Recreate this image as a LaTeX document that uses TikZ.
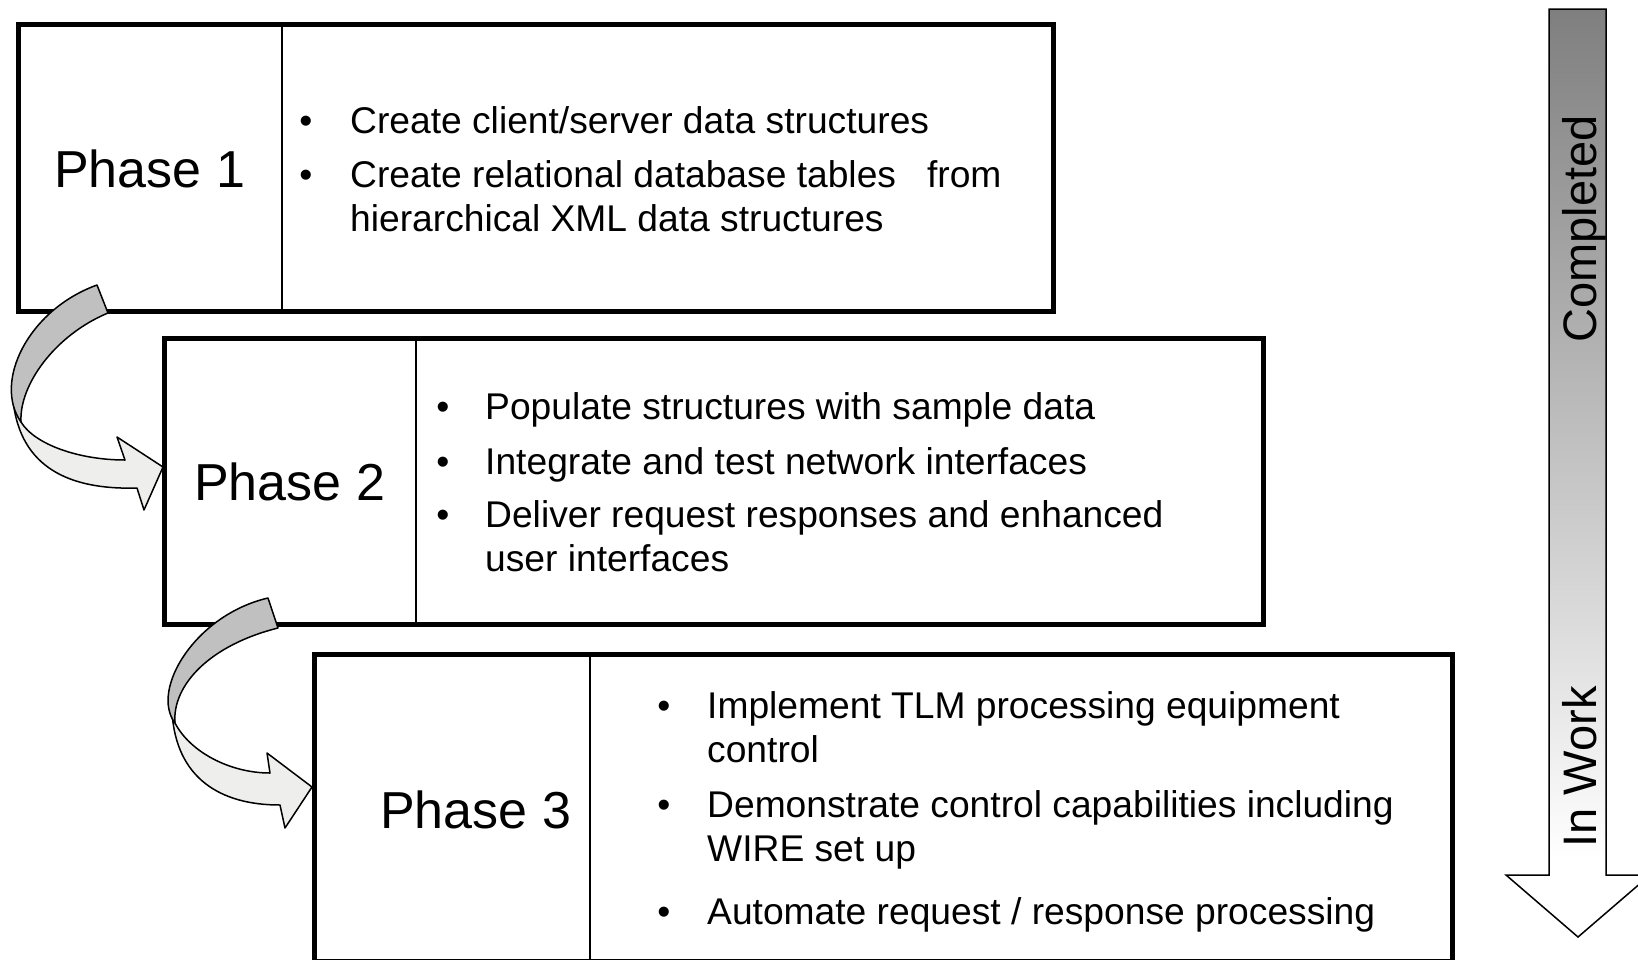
\documentclass[tikz,border=0pt]{standalone}
\usepackage{fontspec}
\setmainfont{Liberation Sans}
\definecolor{bandgray}{HTML}{C0C0C0}
\definecolor{bandlight}{HTML}{EEEEEC}
\definecolor{shafttop}{HTML}{7F7F7F}
\begin{document}
\begin{tikzpicture}[x=1pt,y=-1pt,
  box/.style={draw=black, line width=5pt, line join=miter},
  divider/.style={draw=black, line width=2pt},
  phase/.style={anchor=base west, inner sep=0pt, font=\fontsize{52}{62}\selectfont},
  item/.style={anchor=base west, inner sep=0pt, font=\fontsize{37.2}{44}\selectfont},
  dot/.style={anchor=base, inner sep=0pt, font=\fontsize{37.2}{44}\selectfont},
  band/.style={draw=black, line width=1.5pt, line join=round},
  side/.style={rotate=90, anchor=base, inner sep=0pt, font=\fontsize{47}{56}\selectfont}]
\useasboundingbox (0,0) rectangle (1638,959);

% ---- boxes ----
\draw[box] (18,24.5) rectangle (1053,311);
\draw[divider] (282,24.5) -- (282,311);
\draw[box] (164.5,338) rectangle (1263,624.5);
\draw[divider] (416,338) -- (416,624.5);
\draw[box] (314.5,654.5) rectangle (1452.5,961);
\draw[divider] (590,654.5) -- (590,961);

% ---- phase labels ----
\node[phase] (p1) at (54,187) {Phase 1};
\node[phase] (p2) at (194,500) {Phase 2};
\node[phase] (p3) at (380,828) {Phase 3};

% ---- box 1 items ----
\node[dot] (d11) at (306,133) {•};
\node[item] (t11) at (350,133) {Create client/server data structures};
\node[dot] (d12) at (306,187) {•};
\node[item] (t12) at (350,187) {Create relational database tables\ \ \ from};
\node[item] (t12b) at (350,231) {hierarchical XML data structures};

% ---- box 2 items ----
\node[dot] (d21) at (443,419) {•};
\node[item] (t21) at (485,419) {Populate structures with sample data};
\node[dot] (d22) at (443,474) {•};
\node[item] (t22) at (485,474) {Integrate and test network interfaces};
\node[dot] (d23) at (443,527) {•};
\node[item] (t23) at (485,527) {Deliver request responses and enhanced};
\node[item] (t23b) at (485,571) {user interfaces};

% ---- box 3 items ----
\node[dot] (d31) at (664,718) {•};
\node[item] (t31) at (707,718) {Implement TLM processing equipment};
\node[item] (t31b) at (707,762) {control};
\node[dot] (d32) at (664,817) {•};
\node[item] (t32) at (707,817) {Demonstrate control capabilities including};
\node[item] (t32b) at (707,861) {WIRE set up};
\node[dot] (d33) at (664,924) {•};
\node[item] (t33) at (707,924) {Automate request / response processing};

% ---- curved arrow 1 -> 2 ----
\filldraw[band, fill=bandlight] (13,400) .. controls (20,468) and (70,490) .. (137,488)
  -- (144,510) -- (163,467) -- (117,437) -- (125,460)
  .. controls (80,460) and (35,445) .. (21,422) -- cycle;
\filldraw[band, fill=bandgray] (97,285) .. controls (28,310) and (-7,382) .. (21,422)
  .. controls (19,385) and (55,335) .. (108,313) -- cycle;

% ---- curved arrow 2 -> 3 ----
\filldraw[band, fill=bandlight] (172,712) .. controls (176,778) and (220,805) .. (280,805)
  -- (285,828) -- (312,787) -- (267,753) -- (270,773)
  .. controls (230,773) and (190,752) .. (175,723) -- cycle;
\filldraw[band, fill=bandgray] (268,598) .. controls (195,615) and (150,690) .. (175,723)
  .. controls (172,685) and (210,645) .. (278,628) -- cycle;

% ---- progress arrow ----
\shade[top color=shafttop, bottom color=white] (1549,9) rectangle (1606,860);
\fill[white] (1549,860) rectangle (1606,875);
\fill[white] (1506,875) -- (1650,875) -- (1578,937) -- cycle;
\draw[line width=1.5pt, line join=miter] (1549,9) -- (1606,9) -- (1606,875) -- (1650,875)
  -- (1578,937) -- (1506,875) -- (1549,875) -- cycle;
\node[side] (done) at (1596,229) {Completed};
\node[side] (work) at (1596,767) {In Work};
\end{tikzpicture}
\end{document}
